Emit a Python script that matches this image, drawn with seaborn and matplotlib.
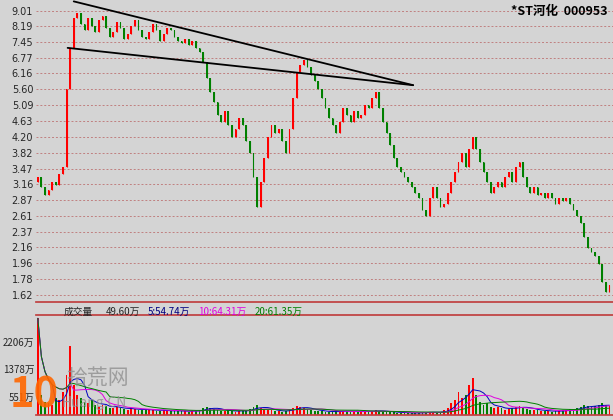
import numpy as np
import pandas as pd
import seaborn as sns
import matplotlib.pyplot as plt

# close prices (one per candle)
closes = [3.3, 3.1, 2.95, 3.05, 3.2, 3.15, 3.35, 3.5,
          5.6, 7.2, 8.6,
          8.9, 8.3, 8.0, 8.6, 8.2, 7.9, 8.5, 8.7, 8.1, 7.7, 7.9, 8.4, 8.1, 7.6, 7.8, 8.2, 8.5,
          8.0, 7.7, 7.6, 7.9, 8.3, 8.0, 7.5, 7.8, 8.1, 8.0, 7.7, 7.5, 7.4, 7.6, 7.3, 7.5, 7.2, 7.0,
          6.6, 6.0, 5.5, 5.2, 4.8, 4.6, 4.9, 4.5, 4.2, 4.4, 4.7, 4.5, 4.1, 3.8, 3.3, 2.75,
          3.2, 3.7, 4.2, 4.5, 4.3, 4.4, 4.1, 3.8, 4.4, 5.3, 6.2,
          6.5, 6.7, 6.4, 6.1, 5.9, 5.6, 5.3, 5.0, 4.7, 4.5, 4.3, 4.6, 5.0,
          4.8, 4.6, 4.9, 4.7, 4.8, 5.1, 5.0, 5.3, 5.5, 5.0, 4.6, 4.3,
          4.0, 3.7, 3.5, 3.4, 3.3, 3.2, 3.1, 3.0, 2.9, 2.7, 2.6, 2.9, 3.1, 2.9,
          2.75, 2.8, 3.0, 3.2, 3.4, 3.6, 3.8, 3.5, 3.9, 4.2, 3.9, 3.6, 3.4, 3.2, 3.0, 3.1,
          3.2, 3.1, 3.3, 3.4, 3.2, 3.5, 3.6, 3.3, 3.1, 3.0, 3.1, 2.95, 3.0, 2.9, 3.0, 2.9, 2.8, 2.9,
          2.85, 2.9, 2.8, 2.7, 2.6, 2.5, 2.3, 2.15, 2.1, 2.05, 1.95, 1.75, 1.65, 1.72]
# volume in 万
volumes = [2900, 600, 400, 350, 300, 500, 450, 700, 1200, 2080, 900,
           600, 500, 400, 350, 450, 300, 250, 300, 280, 200, 220, 250, 200, 180, 150, 200, 180,
           160, 150, 140, 170, 150, 130, 120, 140, 130, 120, 110, 130, 120, 110, 100, 120, 130, 150,
           200, 250, 220, 180, 150, 130, 120, 140, 110, 100, 120, 150, 130, 180, 250, 300,
           220, 180, 160, 140, 120, 110, 100, 130, 180, 220, 260,
           240, 200, 180, 150, 130, 120, 110, 100, 90, 100, 110, 120, 130,
           110, 100, 120, 100, 90, 110, 120, 130, 140, 120, 100, 90,
           80, 90, 70, 60, 70, 60, 50, 60, 70, 80, 90, 100, 80, 70,
           80, 150, 200, 350, 450, 700, 500, 600, 900, 1100, 600, 400, 300, 350, 250, 200,
           250, 200, 160, 180, 220, 250, 280, 220, 180, 160, 150, 140, 130, 120, 110, 100, 120, 130,
           140, 150, 170, 180, 200, 250, 300, 280, 240, 260, 300, 350, 300, 260]
price_ticks = [9.01, 8.19, 7.45, 6.77, 6.16, 5.60, 5.09, 4.63, 4.20, 3.82, 3.47,
               3.16, 2.87, 2.61, 2.37, 2.16, 1.96, 1.78, 1.62]
vol_ticks = [2206, 1378, 551]
# triangle trend lines (candle index, price)
upper_line = ([10, 104.4], [9.52, 5.74])
lower_line = ([8.3, 104.4], [7.19, 5.74])

df = pd.DataFrame({"close": closes, "volume": volumes})
df["i"] = np.arange(len(df))
df["open"] = df["close"].shift(1).fillna(df["close"].iloc[0] * 0.97)
df["up"] = df["close"] >= df["open"]

sns.set_theme(style="white")
plt.rcParams["font.family"] = ["Noto Sans CJK SC", "DejaVu Sans"]
bg = "#d4d4d4"
fig = plt.figure(figsize=(6.13, 4.20), dpi=100, facecolor=bg)
ax = fig.add_axes([36 / 613, 1 - 302 / 420, 577 / 613, 302 / 420], facecolor=bg)
axv = fig.add_axes([36 / 613, 5 / 420, 577 / 613, 100 / 420], facecolor=bg)

colors = np.where(df["up"], "#ff0000", "#008000")
bottoms = np.minimum(df["open"], df["close"])
heights = np.abs(df["close"] - df["open"])
ax.bar(df["i"], heights, bottom=bottoms, width=0.5, color=colors, linewidth=0)
ax.vlines(df["i"], bottoms, bottoms + heights, colors=colors, linewidth=0.8)
ax.set_yscale("log")
ax.set_ylim(1.55, 9.6)
ax.set_xlim(-0.5, len(df))
ax.set_yticks(price_ticks)
ax.set_yticklabels([f"{t:.2f}" for t in price_ticks], fontsize=7, family="DejaVu Sans")
ax.minorticks_off()
ax.set_xticks([])
for t in price_ticks:
    ax.axhline(t, color="#c08080", ls=(0, (2, 2)), lw=0.7, zorder=0)
ax.plot(*upper_line, color="black", lw=1.3)
ax.plot(*lower_line, color="black", lw=1.3)
ax.tick_params(axis="y", length=0, pad=2)
ax.text(0.99, 0.985, "*ST河化  000953", transform=ax.transAxes, ha="right", va="top",
        fontsize=9, fontweight="bold", color="black")
for s in ax.spines.values():
    s.set_visible(False)
ax.spines["bottom"].set_visible(True)
ax.spines["bottom"].set_color("#c04040")

axv.bar(df["i"], df["volume"], width=0.5, color=colors, linewidth=0)
for w, c in [(5, "#0000c0"), (10, "#e000e0"), (20, "#008000")]:
    axv.plot(df["i"], df["volume"].rolling(w, min_periods=1).mean(), color=c, lw=0.7)
axv.set_xlim(-0.5, len(df))
axv.set_ylim(0, 3000)
axv.set_yticks(vol_ticks)
axv.set_yticklabels([f"{v}万" for v in vol_ticks], fontsize=7)
axv.tick_params(axis="y", length=0, pad=1)
axv.set_xticks([])
for s in axv.spines.values():
    s.set_visible(False)
axv.spines["bottom"].set_visible(True)
axv.spines["bottom"].set_color("#c04040")
axv.spines["top"].set_visible(True)
axv.spines["top"].set_color("#c04040")

fig.text(64 / 613, 1 - 312 / 420, "成交量", fontsize=7, va="center")
fig.text(106 / 613, 1 - 312 / 420, "49.60万", fontsize=7, va="center")
fig.text(148 / 613, 1 - 312 / 420, "5:54.74万", fontsize=7, va="center", color="#000080")
fig.text(198 / 613, 1 - 312 / 420, "10:64.31万", fontsize=7, va="center", color="#e000e0")
fig.text(255 / 613, 1 - 312 / 420, "20:61.35万", fontsize=7, va="center", color="#008000")
fig.text(10 / 613, 1 - 395 / 420, "10", fontsize=30, fontweight="bold", color="#ff6600", va="center", alpha=0.9)
fig.text(66 / 613, 1 - 378 / 420, "拾荒网", fontsize=15, color="#909090", va="center", alpha=0.8)
fig.text(62 / 613, 1 - 403 / 420, "Huang.CN", fontsize=10, color="#909090", va="center", alpha=0.8)

fig.savefig("out.png", dpi=100, facecolor=bg)
